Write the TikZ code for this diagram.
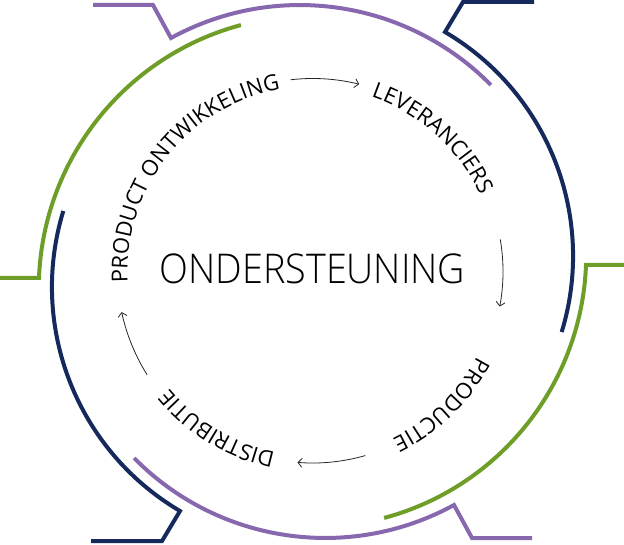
\documentclass[tikz,border=0pt]{standalone}
\usepackage{fontspec}
\setmainfont{Open Sans}
\newfontfamily\ringlightfont{Open Sans Light}
\usetikzlibrary{arrows.meta,decorations.text}
\definecolor{ringpurple}{HTML}{8768AE}
\definecolor{ringnavy}{HTML}{15295C}
\definecolor{ringgreen}{HTML}{6E9E27}
\newcommand\ringlabelfont{\fontsize{22}{22}\selectfont}
\begin{document}
\begin{tikzpicture}[x=1pt,y=1pt,
  ring/.style={line width=4pt},
  flow/.style={line width=0.8pt, black!85, -{Straight Barb[length=4pt,width=9pt]}},
  arclabel/.style={decorate, decoration={text along path, text align=center, text={|\ringlabelfont|#1}}}]
\useasboundingbox (0,0) rectangle (624,544);
\coordinate (C) at (312.5,272.5);

% coloured ring segments with tabs
\draw[ring, ringpurple] (93,539) -- (153,539) -- (171,506) arc[start angle=118.7, end angle=44.6, radius=268.3];
\draw[ring, ringnavy] (534,542) -- (463,542) -- (445,512) arc[start angle=59.5, end angle=-17, radius=260];
\draw[ring, ringgreen] (626,279) -- (586,279) arc[start angle=-2.2, end angle=-75, radius=272.7];
\draw[ring, ringpurple] (532,6) -- (472,6) -- (454,39) arc[start angle=298.7, end angle=224.6, radius=268.3];
\draw[ring, ringnavy] (91,3) -- (162,3) -- (180,33) arc[start angle=239.5, end angle=163, radius=260];
\draw[ring, ringgreen] (-2,266) -- (39,266) arc[start angle=177.8, end angle=105, radius=272.7];

\node[font=\ringlightfont\fontsize{41}{41}\selectfont, anchor=base, inner sep=0pt] (main) at (312.5,260) {\scalebox{0.92}[1]{ONDERSTEUNING}};

\begin{scope}[shift={(C)}]
  \path[arclabel={PRODUCT ONTWIKKELING}] (196.7:185) arc[start angle=196.7, end angle=86.7, radius=185];
  \path[arclabel={LEVERANCIERS}] (87.9:184) arc[start angle=87.9, end angle=7.9, radius=184];
  \path[arclabel={PRODUCTIE}] (-10.9:185) arc[start angle=-10.9, end angle=-80.9, radius=185];
  \path[arclabel={DISTRIBUTIE}] (-86.2:185) arc[start angle=-86.2, end angle=-156.2, radius=185];

  \draw[flow] (96.5:193) arc[start angle=96.5, end angle=76, radius=193];
  \draw[flow] (9.7:190.5) arc[start angle=9.7, end angle=-10.6, radius=190.5];
  \draw[flow] (-74:191.5) arc[start angle=-74, end angle=-94.5, radius=191.5];
  \draw[flow] (-148:195) arc[start angle=-148, end angle=-167.8, radius=197];
\end{scope}
\end{tikzpicture}
\end{document}
